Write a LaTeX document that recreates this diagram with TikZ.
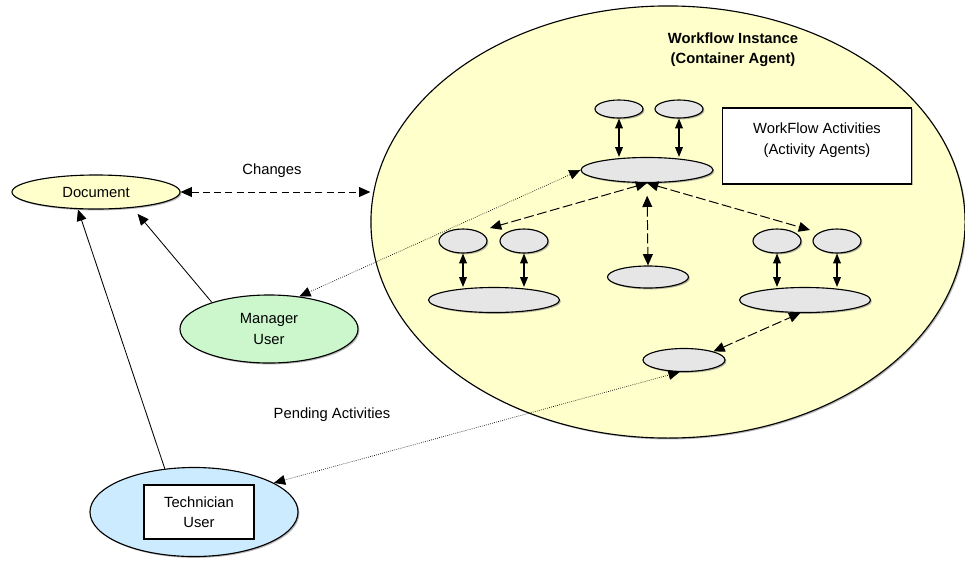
\documentclass[tikz,border=0pt]{standalone}
\usepackage{fontspec}
\setmainfont{Liberation Sans}
\usetikzlibrary{
    calc,
    arrows.meta,
    shapes.geometric,
    shadows
}
\definecolor{instyellow}{HTML}{FFFFCC}
\definecolor{mgrgreen}{HTML}{CCF7CC}
\definecolor{techblue}{HTML}{CCEBFF}
\definecolor{agentgrey}{HTML}{E6E6E6}

\begin{document}
\begin{tikzpicture}[x=0.025cm,y=-0.025cm,
    font=\fontsize{10.5}{14.5}\selectfont,
    dblhead/.style={{Triangle[length=8pt,width=7pt]}-{Triangle[length=8pt,width=7pt]}},
    smallhead/.style={{Triangle[length=7pt,width=5.5pt]}-{Triangle[length=7pt,width=5.5pt]}},
    onehead/.style={-{Triangle[length=8pt,width=7pt]}},
    blob/.style={ellipse,draw,line width=0.8pt,inner sep=0pt,
        drop shadow={shadow xshift=1pt,shadow yshift=-1pt,fill=black!55}},
    agent/.style={blob,fill=agentgrey},
    plainbox/.style={draw,fill=white,line width=0.8pt,
        drop shadow={shadow xshift=1pt,shadow yshift=-1pt,fill=black!55}},
    flow/.style={line width=0.7pt,dash pattern=on 7pt off 2.5pt},
    hint/.style={line width=0.5pt,densely dotted}
]
%\draw [help lines] (0,0) grid [step=50] (965,560);
\useasboundingbox (0,0) rectangle (965,560);

% container agent
\node [blob,fill=instyellow,minimum width=14.85cm,minimum height=10.8cm] (inst) at (668,222) {};
\node [font=\fontsize{10.5}{14.5}\selectfont\bfseries,align=center] (insttitle) at (733,50) {Workflow Instance\\(Container Agent)};

\node [blob,fill=instyellow,minimum width=4.2cm,minimum height=0.85cm] (doc) at (96,192) {Document};
\node [blob,fill=mgrgreen,minimum width=4.45cm,minimum height=1.7cm,align=center] (mgr) at (269,329) {Manager\\User};
\node [blob,fill=techblue,minimum width=5.2cm,minimum height=2.225cm] (tech) at (194,512) {};
\node [plainbox,minimum width=2.75cm,minimum height=1.35cm,align=center] (techbox) at (199,512) {Technician\\User};

\node [plainbox,minimum width=4.725cm,minimum height=1.9cm] (actbox) at (817,146) {};
\node [align=center] (actlabel) at (817,140) {WorkFlow Activities\\(Activity Agents)};

% activity agents
\node [agent,minimum width=1.2cm,minimum height=0.45cm] (a1) at (619,109) {};
\node [agent,minimum width=1.2cm,minimum height=0.45cm] (a2) at (679,109) {};
\node [agent,minimum width=3.3cm,minimum height=0.625cm] (cent) at (647,170) {};
\node [agent,minimum width=1.2cm,minimum height=0.6cm] (l1) at (463,241) {};
\node [agent,minimum width=1.2cm,minimum height=0.6cm] (l2) at (524,241) {};
\node [agent,minimum width=1.2cm,minimum height=0.6cm] (r1) at (777,241) {};
\node [agent,minimum width=1.2cm,minimum height=0.6cm] (r2) at (837,241) {};
\node [agent,minimum width=3.275cm,minimum height=0.625cm] (lw) at (494,300) {};
\node [agent,minimum width=3.275cm,minimum height=0.625cm] (rw) at (805,300) {};
\node [agent,minimum width=2.025cm,minimum height=0.55cm] (mid) at (648,277) {};
\node [agent,minimum width=2.05cm,minimum height=0.575cm] (bot) at (684,360) {};
\coordinate (lgrp) at (490,228);
\coordinate (rgrp) at (810,230);

\draw [smallhead,line width=0.9pt] (a1.south) -- (a1.south |- cent.north);
\draw [smallhead,line width=0.9pt] (a2.south) -- (a2.south |- cent.north);
\draw [smallhead,line width=0.9pt] (l1.south) -- (l1.south |- lw.north);
\draw [smallhead,line width=0.9pt] (l2.south) -- (l2.south |- lw.north);
\draw [smallhead,line width=0.9pt] (r1.south) -- (r1.south |- rw.north);
\draw [smallhead,line width=0.9pt] (r2.south) -- (r2.south |- rw.north);
\draw [flow,dblhead] (cent.south) -- (lgrp);
\draw [flow,dblhead] (cent.south) -- (rgrp);
\draw [flow,dblhead,shorten <=9pt] (cent.south) -- (mid.north);
\draw [flow,dblhead] (bot.north east) -- (rw.250);

% users and document
\draw [dblhead,line width=0.7pt,dash pattern=on 5pt off 3pt] (doc.east) -- (doc.east -| inst.west);
\node (changes) at (272,171) {Changes};
\draw [onehead,line width=0.6pt,shorten >=4pt] (mgr.155) -- ([xshift=0.95cm]doc.south);
\draw [onehead,line width=0.6pt] (tech.124) -- ([xshift=-0.45cm]doc.south);
\draw [hint,dblhead] (mgr.47) -- (cent.west);
\draw [hint,dblhead] (tech.20) -- (bot.250);
\node (pending) at (332,415) {Pending Activities};
\end{tikzpicture}
\end{document}
